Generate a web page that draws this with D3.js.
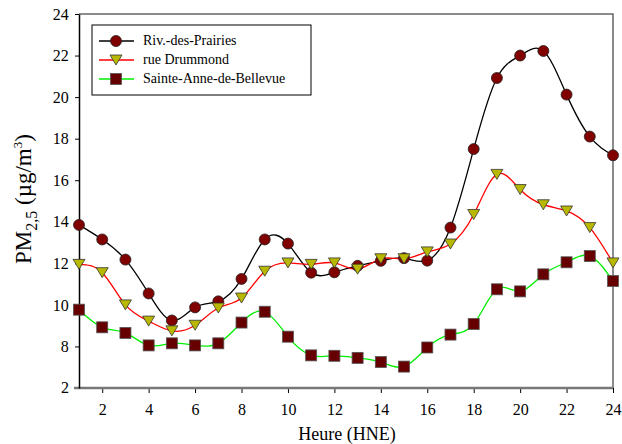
<!DOCTYPE html>
<html>
<head>
<meta charset="utf-8">
<script src="https://cdn.jsdelivr.net/npm/d3@7"></script>
<style>
  body { margin: 0; background: #fff; }
  #chart text { font-family: 'Liberation Serif', 'Times New Roman', Times, 'DejaVu Serif', serif; }
</style>
</head>
<body>
<svg id="chart" width="622" height="444"></svg>
<script>
// hours
var hours = d3.range(1, 25);

// PM2.5 by station (ug/m3)
var rivPrairies = [13.85, 13.15, 12.18, 10.55, 9.25, 9.88, 10.17, 11.25, 13.15, 12.95, 11.55, 11.57,
  11.88, 12.12, 12.25, 12.13, 13.72, 17.5, 20.92, 22.0, 22.22, 20.12, 18.1, 17.2];
var rueDrummond = [11.95, 11.55, 10.0, 9.22, 8.75, 9.02, 9.85, 10.33, 11.62, 12.02, 11.95, 12.02,
  11.72, 12.22, 12.22, 12.55, 12.93, 14.35, 16.28, 15.55, 14.82, 14.52, 13.72, 12.02];
var sainteAnne = [9.77, 8.92, 8.65, 8.05, 8.15, 8.05, 8.15, 9.15, 9.67, 8.47, 7.57, 7.55,
  7.45, 7.25, 7.03, 7.95, 8.57, 9.08, 10.75, 10.65, 11.47, 12.05, 12.35, 11.15];

var xTicks = [2, 4, 6, 8, 10, 12, 14, 16, 18, 20, 22, 24];
var yTicks = [8, 10, 12, 14, 16, 18, 20, 22, 24];

var series = [
  { name: 'Riv.-des-Prairies', values: rivPrairies, line: '#000', marker: 'circle' },
  { name: 'rue Drummond', values: rueDrummond, line: '#ff0000', marker: 'triangle' },
  { name: 'Sainte-Anne-de-Bellevue', values: sainteAnne, line: '#00ee00', marker: 'square' }
];

var margin = { top: 14, right: 9, bottom: 56, left: 79 };
var width = 622 - margin.left - margin.right;
var height = 444 - margin.top - margin.bottom;

var svg = d3.select('#chart');
var g = svg.append('g').attr('transform', 'translate(' + margin.left + ',' + margin.top + ')');

var x = d3.scaleLinear().domain([1, 24]).range([0, width]);
var y = d3.scaleLinear().domain([6, 24]).range([height, 0]);

// frame (top and right)
g.append('path')
  .attr('d', 'M0,0H' + width + 'V' + height)
  .attr('fill', 'none').attr('stroke', '#666').attr('stroke-width', 1.5);

// bottom axis
var xAxis = g.append('g').attr('transform', 'translate(0,' + height + ')')
  .call(d3.axisBottom(x).tickValues(xTicks).tickSize(5).tickSizeOuter(0));
xAxis.select('.domain').remove();
xAxis.append('line').attr('x1', -5).attr('x2', width).attr('stroke', '#777').attr('stroke-width', 2.5);
xAxis.selectAll('.tick line').attr('stroke', '#000');
xAxis.selectAll('.tick text').attr('dy', '1.2em').attr('font-size', 16).attr('fill', '#000');

// left axis
var yAxis = g.append('g')
  .call(d3.axisLeft(y).tickValues(yTicks).tickSize(4).tickSizeOuter(0));
yAxis.select('.domain').attr('stroke', '#000').attr('stroke-width', 1.5);
yAxis.selectAll('.tick text').attr('font-size', 16).attr('fill', '#000').attr('dx', '-0.2em');
// broken-axis label at the bottom
yAxis.append('text').attr('x', -10).attr('y', height).attr('dy', '0.32em')
  .attr('text-anchor', 'end').attr('font-size', 16).attr('fill', '#000').text('2');

// curves
var line = d3.line()
  .x(function (d, i) { return x(hours[i]); })
  .y(function (d) { return y(d); })
  .curve(d3.curveNatural);

series.forEach(function (s) {
  g.append('path').datum(s.values)
    .attr('d', line)
    .attr('fill', 'none').attr('stroke', s.line).attr('stroke-width', 1.3);
});

function drawMarker(sel, type) {
  if (type === 'circle') {
    sel.append('circle').attr('r', 5.5).attr('fill', '#800000').attr('stroke', '#222').attr('stroke-width', 0.8);
  } else if (type === 'triangle') {
    sel.append('path').attr('d', 'M-6,-5L6,-5L0,5Z').attr('fill', '#b8b800').attr('stroke', '#333').attr('stroke-width', 0.8);
  } else {
    sel.append('rect').attr('x', -5.5).attr('y', -5.5).attr('width', 11).attr('height', 11)
      .attr('fill', '#660000').attr('stroke', '#555').attr('stroke-width', 0.8);
  }
}

series.forEach(function (s) {
  g.append('g').selectAll('g').data(s.values).join('g')
    .attr('transform', function (d, i) { return 'translate(' + x(hours[i]) + ',' + y(d) + ')'; })
    .each(function () { drawMarker(d3.select(this), s.marker); });
});

// legend
var legend = svg.append('g').attr('transform', 'translate(92,25)');
legend.append('rect').attr('width', 219).attr('height', 70)
  .attr('fill', '#fff').attr('stroke', '#000').attr('stroke-width', 1);
series.forEach(function (s, i) {
  var row = legend.append('g').attr('transform', 'translate(0,' + (16 + i * 19) + ')');
  row.append('line').attr('x1', 7).attr('x2', 42).attr('stroke', s.line).attr('stroke-width', 1.3);
  drawMarker(row.append('g').attr('transform', 'translate(24,0)'), s.marker);
  row.append('text').attr('x', 51).attr('dy', '0.32em').attr('font-size', 14).text(s.name);
});

// axis titles
svg.append('text').attr('x', 347).attr('y', 440).attr('text-anchor', 'middle')
  .attr('font-size', 18).text('Heure (HNE)');

var yt = svg.append('text').attr('transform', 'translate(31,199) rotate(-90)')
  .attr('text-anchor', 'middle').attr('font-size', 23);
yt.append('tspan').text('PM');
yt.append('tspan').attr('font-size', 16).attr('dy', 6).text('2,5');
yt.append('tspan').attr('dy', -6).text(' (µg/m');
yt.append('tspan').attr('font-size', 13).attr('dy', -9).text('3');
yt.append('tspan').attr('dy', 9).text(')');
</script>
</body>
</html>
